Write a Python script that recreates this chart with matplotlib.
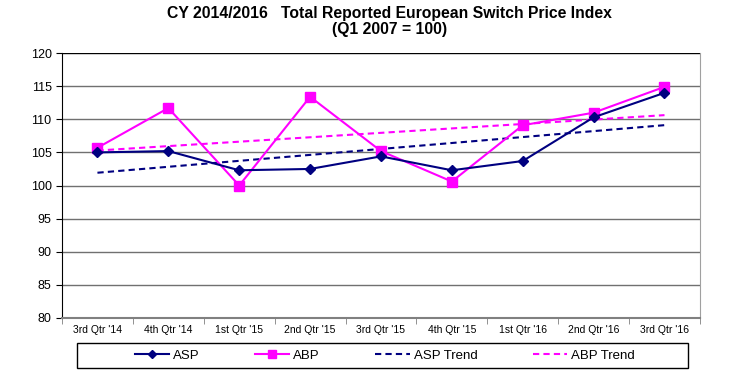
import numpy as np
import matplotlib.pyplot as plt
from matplotlib.ticker import FixedLocator
from matplotlib.patches import Rectangle

plt.rcParams['font.family'] = ['Liberation Sans', 'DejaVu Sans']

quarters = ["3rd Qtr '14", "4th Qtr '14", "1st Qtr '15", "2nd Qtr '15", "3rd Qtr '15",
            "4th Qtr '15", "1st Qtr '16", "2nd Qtr '16", "3rd Qtr '16"]
asp = [105.0, 105.2, 102.3, 102.5, 104.4, 102.3, 103.7, 110.3, 114.0]
abp = [105.7, 111.7, 100.0, 113.4, 105.2, 100.6, 109.1, 111.0, 114.9]

x = np.arange(len(quarters))
asp_trend = np.polyval(np.polyfit(x, asp, 1), x)
abp_trend = np.polyval(np.polyfit(x, abp, 1), x)

navy = '#000080'
pink = '#ff00ff'

fig = plt.figure(figsize=(7.47, 3.74), dpi=100)
ax = fig.add_axes([0.083, 0.150, 0.854, 0.708])

for v in range(85, 121, 5):
    ax.axhline(v, color='#000000' if v == 120 else '#707070', lw=1.0, zorder=1)

ax.plot(x, asp, color=navy, lw=1.5, marker='D', ms=5, label='ASP', zorder=4)
ax.plot(x, abp, color=pink, lw=1.5, marker='s', ms=7, label='ABP', zorder=3)
ax.plot(x, asp_trend, color=navy, lw=1.5, ls=(0, (3, 2)), label='ASP Trend', zorder=2)
ax.plot(x, abp_trend, color=pink, lw=1.5, ls=(0, (3, 2)), label='ABP Trend', zorder=2)

ax.set_xlim(-0.5, len(quarters) - 0.5)
ax.set_ylim(80, 120)
ax.set_yticks(range(80, 121, 5))
ax.tick_params(axis='y', labelsize=9, length=4, direction='out')
ax.set_xticks(x)
ax.set_xticklabels(quarters, fontsize=7.5)
ax.tick_params(axis='x', length=0, pad=5)
ax.xaxis.set_minor_locator(FixedLocator(np.arange(-0.5, len(quarters), 1)))
ax.tick_params(axis='x', which='minor', length=4, color='#808080')

ax.spines['top'].set_visible(False)
ax.spines['right'].set_color('#a0a0a0')
ax.spines['bottom'].set_color('#808080')
ax.spines['bottom'].set_linewidth(1.5)

fig.text(0.522, 0.985, "CY 2014/2016   Total Reported European Switch Price Index\n(Q1 2007 = 100)",
         fontsize=11.3, fontweight='bold', ha='center', va='top', linespacing=1.1)

leg = fig.legend(loc='center', bbox_to_anchor=(0.515, 0.0495), ncol=4, fontsize=9.5,
                 frameon=False, handlelength=2.6, handletextpad=0.3,
                 columnspacing=4.2, markerscale=0.8)
fig.patches.append(Rectangle((77 / 747, 1 - 368 / 374), 611 / 747, 25 / 374,
                             transform=fig.transFigure, fill=False, edgecolor='black', lw=1.0))

fig.savefig('out.png', dpi=100)
